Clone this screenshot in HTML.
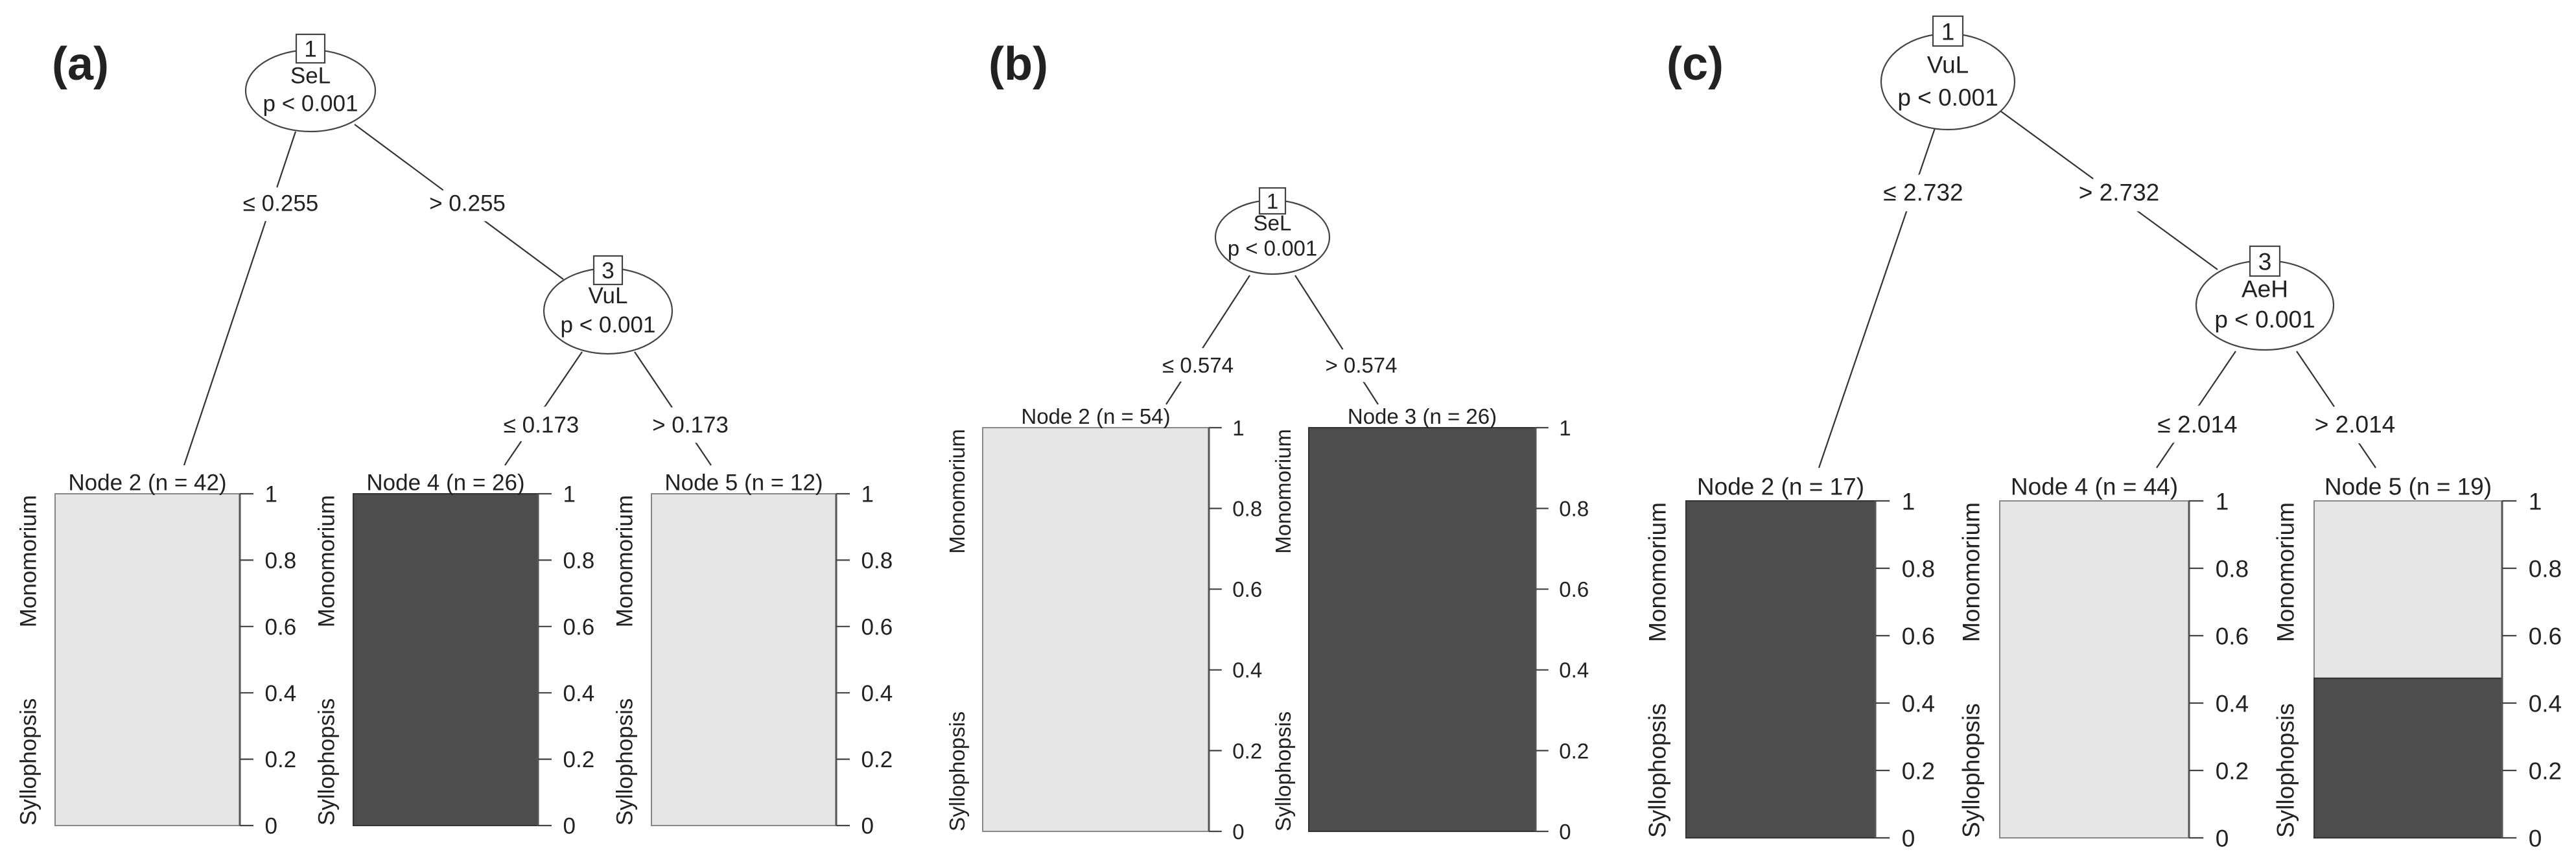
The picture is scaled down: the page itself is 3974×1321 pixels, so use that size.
<!DOCTYPE html>
<html><head><meta charset="utf-8"><style>
html,body{margin:0;padding:0;background:#fff;}
svg{display:block;}
text{font-family:"Liberation Sans",Arial,sans-serif;fill:#222;}
</style></head><body>
<svg id="fig" width="3974" height="1321" viewBox="0 0 3974 1321" xmlns="http://www.w3.org/2000/svg">
<rect x="0" y="0" width="3974" height="1321" fill="#fff"/>
</svg>
<script>
// ---- data ----
const panelLetters = ["(a)", "(b)", "(c)"];
const tickValues = [0, 0.2, 0.4, 0.6, 0.8, 1];
const tickLabels = ["0", "0.2", "0.4", "0.6", "0.8", "1"];
const classLabels = ["Monomorium", "Syllophopsis"];
// terminal node ids, sizes, and Syllophopsis proportion per panel
const termIdsA = [2, 4, 5];
const termNA = [42, 26, 12];
const termSylA = [0, 1, 0];
const termIdsB = [2, 3];
const termNB = [54, 26];
const termSylB = [0, 1];
const termIdsC = [2, 4, 5];
const termNC = [17, 44, 19];
const termSylC = [1, 0, 9/19];
// inner nodes
const innerIdsA = [1, 3];
const innerVarA = ["SeL", "VuL"];
const splitA = ["0.255", "0.173"];
const innerIdsB = [1];
const innerVarB = ["SeL"];
const splitB = ["0.574"];
const innerIdsC = [1, 3];
const innerVarC = ["VuL", "AeH"];
const splitC = ["2.732", "2.014"];

// ---- layout (geometry only) ----
const layouts = [
  { letter:[80,123,72], fs:35, box:44,
    bars:[[85,370],[545,830],[1005,1290]], top:762, bot:1274, titleY:744, labX:-42,
    nodes:[{cx:479,cy:140,rx:100,ry:63,boxY:75},{cx:938,cy:480,rx:99,ry:66,boxY:417}],
    edges:[{from:[456,203],to:[284,718],lab:[433,313],pre:"≤ "},{from:[547,192],to:[869,431],lab:[721,313],pre:"> "},
           {from:[898,543],to:[779,718],lab:[835,655],pre:"≤ "},{from:[979,543],to:[1097,718],lab:[1065,655],pre:"> "}],
    edgeSplit:[0,0,1,1] },
  { letter:[1525,123,72], fs:33, box:40,
    bars:[[1516,1865],[2019,2369]], top:660, bot:1283, titleY:642, labX:-40,
    nodes:[{cx:1963,cy:366,rx:88,ry:57,boxY:310}],
    edges:[{from:[1928,425],to:[1799,624],lab:[1848,563],pre:"≤ "},{from:[1998,425],to:[2126,624],lab:[2100,563],pre:"> "}],
    edgeSplit:[0,0] },
  { letter:[2571,123,72], fs:37, box:46,
    bars:[[2601,2893],[3085,3377],[3570,3860]], top:773, bot:1293, titleY:750, labX:-45,
    nodes:[{cx:3005,cy:126,rx:103,ry:74,boxY:48},{cx:3494,cy:471,rx:106,ry:69,boxY:403}],
    edges:[{from:[2987,192],to:[2806,722],lab:[2967,296],pre:"≤ "},{from:[3087,172],to:[3421,416],lab:[3269,296],pre:"> "},
           {from:[3449,542],to:[3327,722],lab:[3390,654],pre:"≤ "},{from:[3543,542],to:[3665,722],lab:[3633,654],pre:"> "}],
    edgeSplit:[0,0,1,1] }
];
const panelData = [
  {tid:termIdsA, tn:termNA, ts:termSylA, iid:innerIdsA, iv:innerVarA, sp:splitA},
  {tid:termIdsB, tn:termNB, ts:termSylB, iid:innerIdsB, iv:innerVarB, sp:splitB},
  {tid:termIdsC, tn:termNC, ts:termSylC, iid:innerIdsC, iv:innerVarC, sp:splitC}
];

const NS = "http://www.w3.org/2000/svg";
const svg = document.getElementById("fig");
function mk(tag, attrs, parent, txt){
  const e = document.createElementNS(NS, tag);
  for (const k in attrs) e.setAttribute(k, attrs[k]);
  if (txt !== undefined) e.textContent = txt;
  (parent||svg).appendChild(e);
  return e;
}

layouts.forEach((L, pi) => {
  const D = panelData[pi];
  const g = mk("g", {});
  
  
  const yScale = v => L.bot - v * (L.bot - L.top);

  const lt = mk("text", {x:L.letter[0], y:L.letter[1], "font-size":L.letter[2], "font-weight":"bold", fill:"#000"}, g, panelLetters[pi]);
  
  

  L.edges.forEach((E, ei) => {
    const ln = mk("line", {x1:E.from[0], y1:E.from[1], x2:E.to[0], y2:E.to[1], stroke:"#333", "stroke-width":2.2}, g);
    
    
    const t = mk("text", {x:E.lab[0], y:E.lab[1] + L.fs*0.36, "font-size":L.fs, "text-anchor":"middle",
      stroke:"#fff", "stroke-width":L.fs*0.9, "paint-order":"stroke", "stroke-linejoin":"round"}, g, E.pre + D.sp[L.edgeSplit[ei]]);
    
    
  });

  L.nodes.forEach((N, ni) => {
    const el = mk("ellipse", {cx:N.cx, cy:N.cy, rx:N.rx, ry:N.ry, fill:"#fff", stroke:"#444", "stroke-width":2.2}, g);
    
    
    const b = L.box;
    const bx = mk("rect", {x:N.cx - b/2, y:N.boxY - b/2, width:b, height:b, fill:"#fff", stroke:"#444", "stroke-width":2.2}, g);
    
    
    const bt = mk("text", {x:N.cx, y:N.boxY + L.fs*0.36, "font-size":L.fs, "text-anchor":"middle"}, g, String(D.iid[ni]));
    
    
    const v = mk("text", {x:N.cx, y:N.cy - N.ry*0.18, "font-size":L.fs, "text-anchor":"middle"}, g, D.iv[ni]);
    
    
    const p = mk("text", {x:N.cx, y:N.cy + N.ry*0.5, "font-size":L.fs, "text-anchor":"middle"}, g, "p < 0.001");
    
    
  });

  L.bars.forEach((B, ti) => {
    const x0 = B[0], x1 = B[1], w = x1 - x0;
    const syl = D.ts[ti];
    const light = mk("rect", {x:x0, y:L.top, width:w, height:yScale(syl) - L.top, fill:"#e6e6e6", stroke:"#888", "stroke-width":2}, g);
    
    
    if (syl > 0) {
      const dark = mk("rect", {x:x0, y:yScale(syl), width:w, height:L.bot - yScale(syl), fill:"#4d4d4d", stroke:"#333", "stroke-width":2}, g);
      
      
    }
    const ax = mk("line", {x1:x1, y1:L.top, x2:x1, y2:L.bot, stroke:"#555", "stroke-width":3}, g);
    
    
    tickValues.forEach((tv, k) => {
      const y = yScale(tv);
      const tk = mk("line", {x1:x1, y1:y, x2:x1 + L.fs*0.6, y2:y, stroke:"#444", "stroke-width":2.2}, g);
      
      
      const tl = mk("text", {x:x1 + L.fs*1.1, y:y + L.fs*0.36, "font-size":L.fs}, g, tickLabels[k]);
      
      
    });
    const title = mk("text", {x:(x0 + x1)/2, y:L.titleY + L.fs*0.36, "font-size":L.fs, "text-anchor":"middle"}, g,
      "Node " + D.tid[ti] + " (n = " + D.tn[ti] + ")");
    
    
    const lx = x0 + L.labX;
    const m = mk("text", {x:0, y:0, "font-size":L.fs, "text-anchor":"end", transform:"translate(" + (lx + L.fs*0.36) + "," + (L.top + 2) + ") rotate(-90)"}, g, classLabels[0]);
    
    
    const s = mk("text", {x:0, y:0, "font-size":L.fs, "text-anchor":"start", transform:"translate(" + (lx + L.fs*0.36) + "," + L.bot + ") rotate(-90)"}, g, classLabels[1]);
    
    
  });
});
</script>
</body></html>
